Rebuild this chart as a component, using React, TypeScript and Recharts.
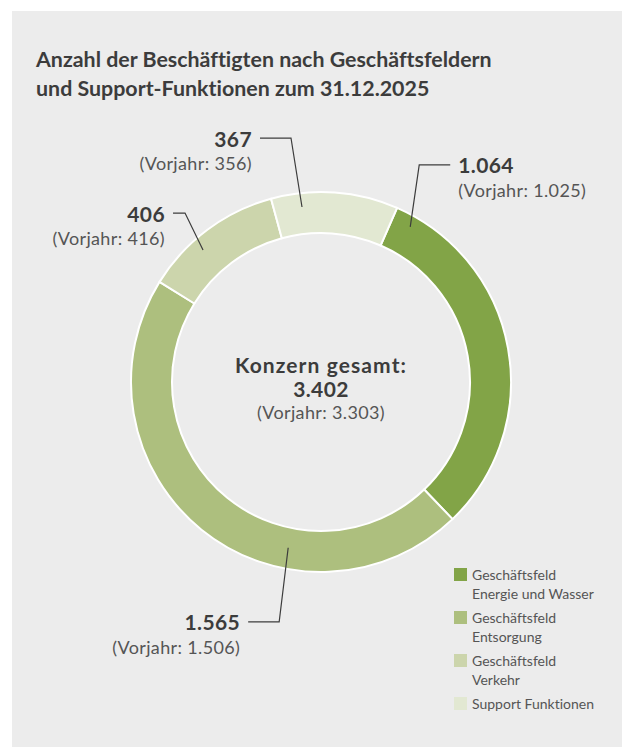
import { PieChart, Pie, Cell, Legend } from 'recharts';

const CATEGORIES = [
    'Geschäftsfeld Energie und Wasser',
    'Geschäftsfeld Entsorgung',
    'Geschäftsfeld Verkehr',
    'Support Funktionen',
];
const VALUES = [1064, 1565, 406, 367];
const PREVIOUS = [1025, 1506, 416, 356];
const COLORS = ['#82a447', '#adbf7e', '#ccd5ac', '#e2e8d2'];

const FONT = 'Lato, "Noto Sans", sans-serif';
const DARK = '#3c3c3c';
const GREY = '#555555';

// where each leader line starts (angle clockwise from 12 o'clock, radius)
// and how it bends out to its text
const LABEL_LAYOUT = [
    { angle: 29.9, r: 179, elbow: [9, -62], run: 31, side: 'start' },
    { angle: 191.2, r: 169, elbow: [-9, 74], run: -31, side: 'end' },
    { angle: 318.2, r: 177, elbow: [-18, -37], run: -12, side: 'end' },
    { angle: 353.8, r: 176, elbow: [-11, -69], run: -31, side: 'end' },
];

const fmt = (n: number) => String(n).replace(/\B(?=(\d{3})+(?!\d))/g, '.');

const total = VALUES.reduce((a, b) => a + b, 0);
const totalPrev = PREVIOUS.reduce((a, b) => a + b, 0);

const chartData = CATEGORIES.map((name, i) => ({
    name,
    value: VALUES[i],
    prev: PREVIOUS[i],
    fill: COLORS[i],
}));

const renderLabel = (props: any) => {
    const { cx, cy, index } = props;
    const l = LABEL_LAYOUT[index];
    const rad = (l.angle * Math.PI) / 180;
    const ax = cx + l.r * Math.sin(rad);
    const ay = cy - l.r * Math.cos(rad);
    const ex = ax + l.elbow[0];
    const ey = ay + l.elbow[1];
    const hx = ex + l.run;
    const tx = hx + (l.side === 'start' ? 8 : -8);
    return (
        <g key={`lbl-${index}`}>
            <polyline
                points={`${ax},${ay} ${ex},${ey} ${hx},${ey}`}
                fill="none"
                stroke="#3c3c3c"
                strokeWidth={1.2}
            />
            <text
                x={tx}
                y={ey}
                textAnchor={l.side}
                dominantBaseline="central"
                fontFamily={FONT}
                fontSize={21}
                fontWeight={700}
                letterSpacing={0.4}
                fill={DARK}
            >
                {fmt(VALUES[index])}
            </text>
            <text
                x={tx}
                y={ey + 25}
                textAnchor={l.side}
                dominantBaseline="central"
                fontFamily={FONT}
                fontSize={18}
                letterSpacing={0.35}
                fill={GREY}
            >
                (Vorjahr: {fmt(PREVIOUS[index])})
            </text>
        </g>
    );
};

const renderLegend = (props: any) => {
    const { payload } = props;
    return (
        <div style={{ fontFamily: FONT, fontSize: 14, color: GREY, fontVariantLigatures: 'none' }}>
            {payload.map((entry: any, i: number) => {
                const name: string = entry.value;
                const lines = name.startsWith('Geschäftsfeld ')
                    ? ['Geschäftsfeld', name.slice('Geschäftsfeld '.length)]
                    : [name];
                return (
                    <div
                        key={`leg-${i}`}
                        style={{ display: 'flex', alignItems: 'flex-start', marginBottom: 6 }}
                    >
                        <div
                            style={{
                                width: 13,
                                height: 13,
                                background: entry.color,
                                marginTop: 2,
                                marginRight: 5,
                                flex: 'none',
                            }}
                        />
                        <div style={{ lineHeight: '19px', marginTop: -1 }}>
                            {lines.map((t, j) => (
                                <div key={j}>{t}</div>
                            ))}
                        </div>
                    </div>
                );
            })}
        </div>
    );
};

export default function App() {
    return (
        <div style={{ position: 'absolute', left: 0, top: 0, width: 623, height: 747, background: '#fff' }}>
            <div
                style={{
                    position: 'absolute',
                    left: 12,
                    top: 11,
                    width: 610,
                    height: 736,
                    background: '#ececec',
                }}
            />
            <div
                style={{
                    position: 'absolute',
                    left: 36,
                    top: 45,
                    fontFamily: FONT,
                    fontWeight: 700,
                    fontSize: 21.4,
                    lineHeight: '29px',
                    color: DARK,
                    fontVariantLigatures: 'none',
                }}
            >
                Anzahl der Beschäftigten nach Geschäftsfeldern
                <br />
                und Support-Funktionen zum 31.12.2025
            </div>
            <div style={{ position: 'absolute', left: 0, top: 0 }}>
                <PieChart width={623} height={747} margin={{ top: 0, right: 0, bottom: 0, left: 0 }}>
                    <Pie
                        data={chartData}
                        dataKey="value"
                        nameKey="name"
                        cx={321}
                        cy={382}
                        innerRadius={149}
                        outerRadius={190}
                        startAngle={66.4}
                        endAngle={-293.6}
                        stroke="#ffffff"
                        strokeWidth={2}
                        label={renderLabel}
                        labelLine={false}
                        isAnimationActive={false}
                    >
                        {chartData.map((entry, index) => (
                            <Cell key={`cell-${index}`} fill={entry.fill} />
                        ))}
                    </Pie>
                    <text
                        x={321}
                        y={364}
                        textAnchor="middle"
                        dominantBaseline="central"
                        fontFamily={FONT}
                        fontSize={21}
                        fontWeight={700}
                        letterSpacing={1.1}
                        fill={DARK}
                    >
                        Konzern gesamt:
                    </text>
                    <text
                        x={321}
                        y={388}
                        textAnchor="middle"
                        dominantBaseline="central"
                        fontFamily={FONT}
                        fontSize={21}
                        fontWeight={700}
                        letterSpacing={0.4}
                        fill={DARK}
                    >
                        {fmt(total)}
                    </text>
                    <text
                        x={321}
                        y={412}
                        textAnchor="middle"
                        dominantBaseline="central"
                        fontFamily={FONT}
                        fontSize={18}
                        letterSpacing={0.35}
                        fill={GREY}
                    >
                        (Vorjahr: {fmt(totalPrev)})
                    </text>
                    <Legend
                        content={renderLegend}
                        wrapperStyle={{ left: 454, top: 566, width: 165, bottom: 'auto' }}
                    />
                </PieChart>
            </div>
        </div>
    );
}
